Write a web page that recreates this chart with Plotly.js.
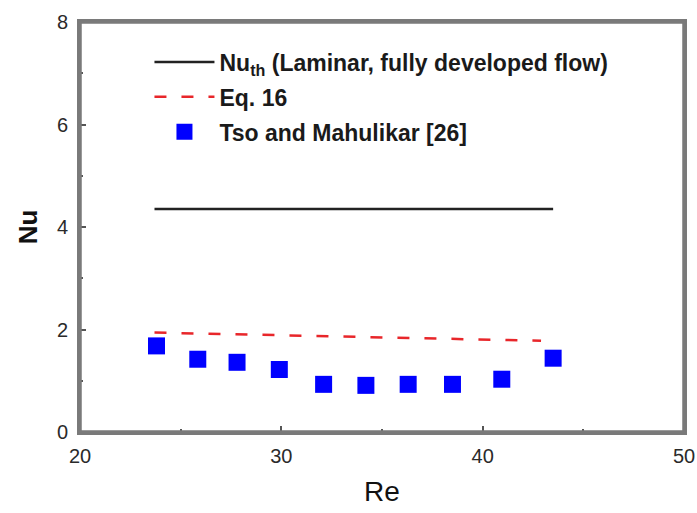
<!DOCTYPE html>
<html>
<head>
<meta charset="utf-8">
<script src="https://cdn.plot.ly/plotly-3.0.1.min.js"></script>
<style>html,body{margin:0;padding:0;background:#fff;}#chart{width:697px;height:513px;}</style>
</head>
<body>
<div id="chart"></div>
<script>
const reLine = [23.7, 43.5];
const nuLaminar = [4.35, 4.35];

const reEq16 = [23.7, 26, 28, 30, 32, 34, 36, 38, 40, 42.9];
const nuEq16 = [1.94, 1.92, 1.90, 1.89, 1.87, 1.86, 1.84, 1.82, 1.80, 1.78];

const reTso = [23.8, 25.85, 27.8, 29.9, 32.1, 34.2, 36.3, 38.5, 40.95, 43.5];
const nuTso = [1.68, 1.42, 1.36, 1.22, 0.93, 0.91, 0.93, 0.93, 1.03, 1.44];

const xTicks = [20, 30, 40, 50];
const yTicks = [0, 2, 4, 6, 8];

const traces = [
  {x: reLine, y: nuLaminar, mode: 'lines', name: 'Nu<sub>th</sub> (Laminar, fully developed flow)',
   legendgroup: 'a', line: {color: '#222222', width: 2.5}},
  {x: reEq16, y: nuEq16, mode: 'lines', name: 'Eq. 16', legendgroup: 'b',
   line: {color: '#e8262a', width: 2.5, dash: '12px,15px'}},
  {x: reTso, y: nuTso, mode: 'markers', name: 'Tso and Mahulikar [26]', legendgroup: 'c',
   marker: {symbol: 'square', size: 17, color: '#0000ff', line: {width: 0}}}
];

const axisLine = '#7a7a7a';

const layout = {
  width: 697, height: 513,
  margin: {l: 80, r: 13, t: 22, b: 81},
  paper_bgcolor: '#ffffff', plot_bgcolor: '#ffffff',
  font: {family: 'Liberation Sans, Arial, sans-serif', color: '#333333', size: 18},
  showlegend: true,
  legend: {x: 0.115, y: 0.955, xanchor: 'left', yanchor: 'top', bgcolor: 'rgba(0,0,0,0)',
    font: {family: 'Liberation Sans, Arial, sans-serif', size: 23, color: '#1a1a1a', weight: 'bold'},
    itemwidth: 60, tracegroupgap: 2},
  shapes: [{type: 'rect', xref: 'paper', yref: 'paper', x0: 0, x1: 1, y0: 0, y1: 1,
    line: {color: axisLine, width: 3.5}, fillcolor: 'rgba(0,0,0,0)', layer: 'above'}],
  xaxis: {range: [20, 50], tickvals: xTicks, ticktext: xTicks.map(String), ticks: 'inside', ticklen: 6, tickwidth: 2,
    tickcolor: '#555', showline: true, linecolor: axisLine, linewidth: 3, mirror: true, showgrid: false, zeroline: false,
    minor: {dtick: 5, ticks: 'inside', ticklen: 3, tickwidth: 2, tickcolor: '#555'},
    tickfont: {size: 20, color: '#2a2a2a'}, ticklabelstandoff: 4,
    title: {text: 'Re', font: {size: 28, color: '#111'}, standoff: 16}},
  yaxis: {range: [0, 8], tickvals: yTicks, ticktext: yTicks.map(String), ticks: 'inside', ticklen: 6, tickwidth: 2,
    tickcolor: '#555', showline: true, linecolor: axisLine, linewidth: 3, mirror: true, showgrid: false, zeroline: false,
    minor: {dtick: 1, ticks: 'inside', ticklen: 3, tickwidth: 2, tickcolor: '#555'},
    tickfont: {size: 20, color: '#2a2a2a'}, ticklabelstandoff: 5,
    title: {text: 'Nu', font: {size: 26, color: '#111', weight: 'bold'}, standoff: 12}}
};

Plotly.newPlot('chart', traces, layout, {displayModeBar: false, staticPlot: true});
</script>
</body>
</html>
